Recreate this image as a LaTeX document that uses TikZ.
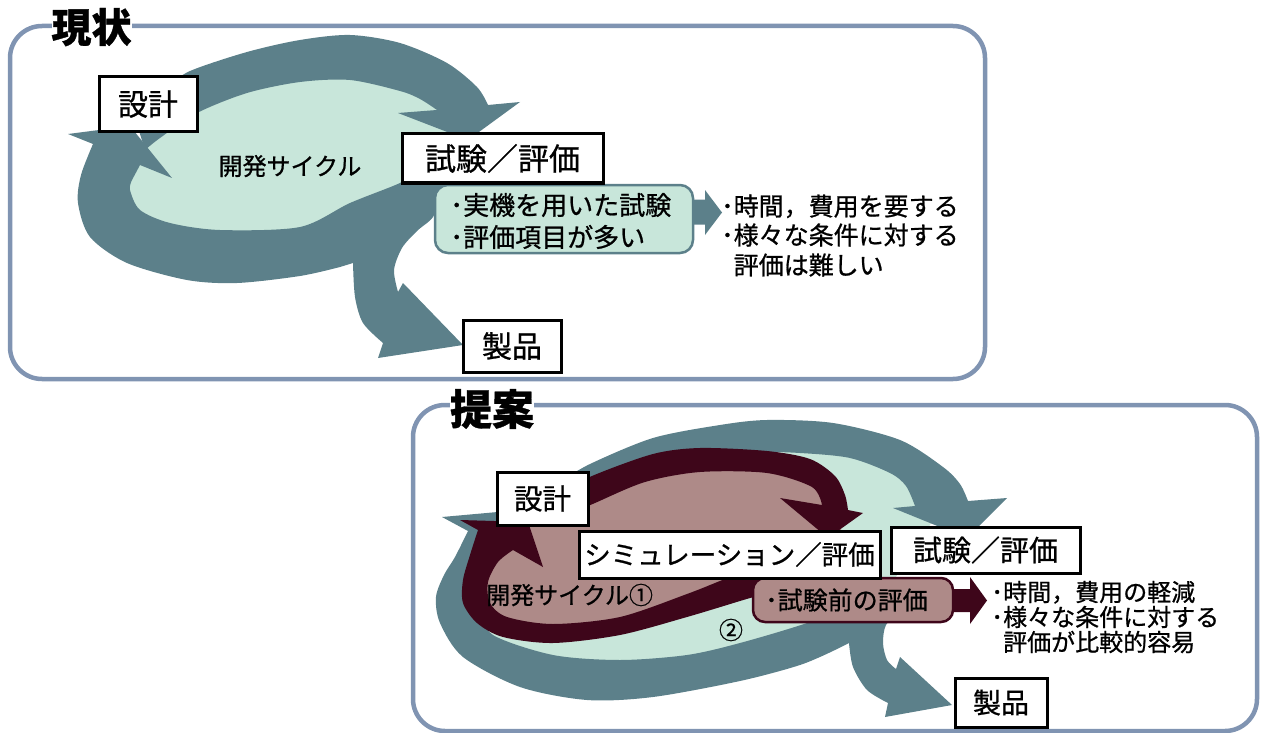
\documentclass[tikz,border=0pt]{standalone}
\usepackage{fontspec}
\setmainfont{Noto Sans CJK JP}[RawFeature={embolden=0.8}]
\definecolor{slate}{RGB}{92,128,138}
\definecolor{mint}{RGB}{200,230,218}
\definecolor{bord}{RGB}{128,148,178}
\definecolor{maroon}{RGB}{62,6,26}
\definecolor{mauve}{RGB}{174,138,136}
\newcommand\myfs[1]{\fontsize{#1}{#1}\selectfont}
\tikzset{
  lbl/.style={draw=black, line width=3pt, fill=white, inner sep=0pt},
  tx/.style={inner sep=0pt, font=\myfs{#1}, text height={0.88*#1}, text depth={0.12*#1}},
  panel/.style={draw=bord, line width=4.5pt, rounded corners=32pt},
  ttl/.style={fill=white, inner xsep=7pt, inner ysep=0pt},
}
\begin{document}
\begin{tikzpicture}[x=1pt,y=-1pt]
\useasboundingbox (0,0) rectangle (1264,733);

% ===== top panel =====
\draw[panel] (10,26) rectangle (985,379);
\fill[mint] plot[smooth cycle] coordinates {(190,105) (250,80) (300,70) (350,66) (400,77) (440,100) (455,128) (440,165) (405,192) (350,212) (300,236) (220,240) (160,230) (128,200) (128,170) (150,140)};
% top arc: design -> test
\fill[slate] plot[smooth] coordinates {(165,88) (190,71) (247,52) (300,40) (350,35) (400,43) (447,63) (477,87) (488,105)}
  -- (520,102) -- (468,140) -- (398,113) --
  plot[smooth] coordinates {(437,110) (420,99) (400,91) (350,80) (300,82) (247,93) (197,113) (160,138) (145,150)}
  -- (135,118) -- cycle;
% bottom arc: test -> design, with branch to product
\fill[slate] plot[smooth] coordinates {(452,165) (441,195) (433,217) (417,231) (402,248) (394,270) (398,292)}
  -- (403,283) -- (463,345) -- (378,358) --
  plot[smooth] coordinates {(383,343) (363,323) (355,297) (353,263)}
  -- plot[smooth] coordinates {(340,267) (300,276) (237,283) (187,280) (127,263) (90,237) (78,203) (81,175) (93,144)}
  -- (68,134) -- (130,126) -- (172,178) -- (140,165) --
  plot[smooth] coordinates {(132,180) (130,190) (140,210) (170,223) (220,230) (300,227) (350,203) (400,183) (420,170)} -- cycle;
% small arrow
\fill[slate] (686,199.5) -- (705,199.5) -- (705,190) -- (722,212.5) -- (705,235) -- (705,224.5) -- (686,224.5) -- cycle;
\node[draw=slate, line width=2.5pt, fill=mint, rounded corners=13pt, minimum width=258, minimum height=68, inner sep=0pt] (bul1) at (564,219) {};
\node[tx=26, anchor=west] (b1a) at (450,205) {･実機を用いた試験};
\node[tx=26, anchor=west] (b1b) at (450,237) {･評価項目が多い};
\node[tx=25, anchor=west] (r1a) at (721,206) {･時間，費用を要する};
\node[tx=25, anchor=west] (r1b) at (721,235) {･様々な条件に対する};
\node[tx=25, anchor=west] (r1c) at (733.5,265) {評価は難しい};
\node[tx=24] (cyc1) at (290,166) {開発サイクル};
\node[lbl, tx=30, minimum width=98, minimum height=55] (des1) at (148,104) {設計};
\node[lbl, tx=31, minimum width=201, minimum height=49] (tst1) at (502.5,158.5) {試験／評価};
\node[lbl, tx=30, minimum width=98, minimum height=52] (prd1) at (512,346) {製品};
\node[ttl, tx=40, font=\bfseries\myfs{40}] (ttl1) at (91.5,27) {現状};

% ===== bottom panel =====
\draw[panel] (413,405) rectangle (1257,731);
\fill[mint] plot[smooth cycle] coordinates {(560,480) (650,450) (750,438) (850,440) (915,470) (935,510) (915,548) (880,595) (820,630) (740,655) (650,668) (560,665) (495,645) (470,610) (480,560) (510,510)};
% outer loop top arc
\fill[slate] plot[smooth] coordinates {(560,482) (590,464) (653,438) (720,425) (767,420) (833,423) (900,440) (943,467) (960,484) (968,501)}
  -- (1007,498) -- (967,538) -- (893,508) --
  plot[smooth] coordinates {(915,506) (906,486) (890,473) (850,458) (800,453) (750,452) (700,458) (653,470) (600,492) (575,502)} -- cycle;
% outer loop bottom arc + branch
\fill[slate] plot[smooth] coordinates {(925,598) (900,612) (886,625) (883,643) (887,660) (896,669)}
  -- (900,657) -- (952,705) -- (885,717) --
  plot[smooth] coordinates {(888,703) (867,690) (853,667) (849,643)}
  -- plot[smooth] coordinates {(835,650) (800,665) (740,681) (653,697) (587,700) (520,687) (463,657) (440,623) (436,597) (444,575) (455,557) (468,531)}
  -- (442,517) -- (520,510) -- (527,561) --
  plot[smooth] coordinates {(510,565) (490,585) (482,610) (493,635) (553,655) (620,660) (687,655) (740,643) (807,623) (850,605)} -- cycle;
% inner loop fill
\fill[mauve] plot[smooth cycle] coordinates {(650,472) (700,463) (767,465) (812,480) (832,505) (840,535) (800,565) (740,575) (687,600) (620,626) (553,633) (505,626) (479,605) (478,575) (495,545) (530,515) (590,490)};
% inner loop top arc
\fill[maroon] plot[smooth] coordinates {(570,490) (592,476) (653,454) (700,448) (767,451) (810,459) (835,476) (845,495) (848,510)}
  -- (863,513) -- (828,538) -- (780,498) --
  plot[smooth] coordinates {(822,505) (812,487) (767,473) (700,472) (645,482) (595,503) (575,512)} -- cycle;
% inner loop bottom arc
\fill[maroon] plot[smooth] coordinates {(790,585) (760,595) (740,601) (687,617) (620,635) (553,643) (503,637) (477,623) (463,603) (463,580) (470,555) (478,530)}
  -- (460,520) -- (528,522) -- (543,567) --
  plot[smooth] coordinates {(513,550) (498,562) (488,582) (490,603) (507,617) (553,624) (620,617) (687,594) (725,579) (770,562)} -- cycle;
% small arrow
\fill[maroon] (950,589) -- (970,589) -- (970,577) -- (987,600.5) -- (970,624) -- (970,612) -- (950,612) -- cycle;
\node[draw=maroon, line width=2.5pt, fill=mauve, rounded corners=12pt, minimum width=200, minimum height=44, inner sep=0pt] (pre) at (853,600) {};
\node[tx=25, anchor=west] (pret) at (765,600) {･試験前の評価};
\node[tx=24, anchor=west] (r2a) at (991,592) {･時間，費用の軽減};
\node[tx=24, anchor=west] (r2b) at (991,617) {･様々な条件に対する};
\node[tx=24, anchor=west] (r2c) at (1003,642) {評価が比較的容易};
\node[tx=24, anchor=west] (cyc2) at (486,595) {開発サイクル①};
\node[tx=24] (n2) at (731,630) {②};
\node[lbl, tx=28.5, minimum width=91, minimum height=53] (des2) at (542.5,498.5) {設計};
\node[lbl, tx=26.5, minimum width=301, minimum height=47] (sim) at (729.5,554.5) {シミュレーション／評価};
\node[lbl, tx=29, minimum width=189, minimum height=46] (tst2) at (985.5,550) {試験／評価};
\node[lbl, tx=28, minimum width=92, minimum height=49] (prd2) at (1001,702.5) {製品};
\node[ttl, tx=42, font=\bfseries\myfs{42}] (ttl2) at (492,409) {提案};
\end{tikzpicture}
\end{document}
